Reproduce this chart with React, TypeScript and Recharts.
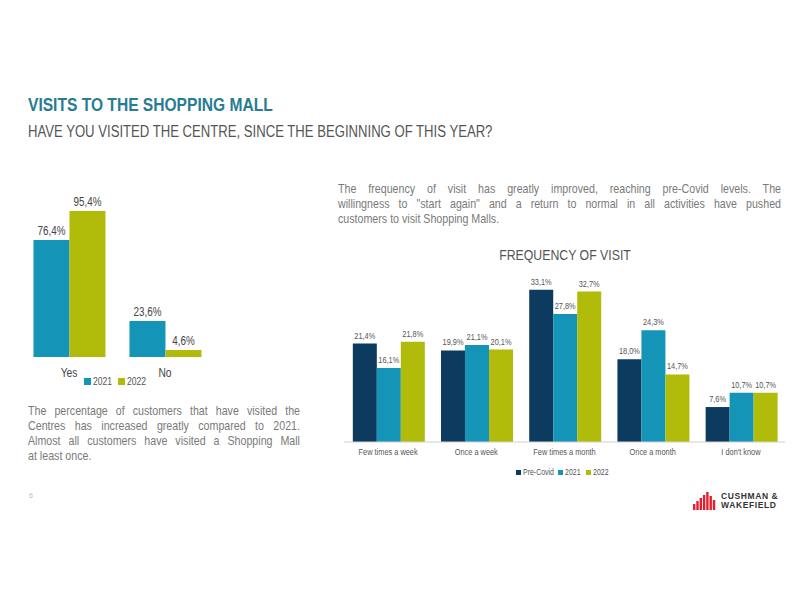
import React from "react";
import { Bar, BarChart, LabelList, Legend, XAxis, YAxis } from "recharts";

// left chart: visited since beginning of year
const visitAnswers = ["Yes", "No"];
const visits2021 = [76.4, 23.6];
const visits2022 = [95.4, 4.6];

// right chart: frequency of visit
const freqCategories = [
  "Few times a week",
  "Once a week",
  "Few times a month",
  "Once a month",
  "I don't know",
];
const freqPreCovid = [21.4, 19.9, 33.1, 18.0, 7.6];
const freq2021 = [16.1, 21.1, 27.8, 24.3, 10.7];
const freq2022 = [21.8, 20.1, 32.7, 14.7, 10.7];

const NAVY = "#0d3a5f";
const TEAL = "#1494b6";
const LIME = "#b1bb0a";

// no narrow font installed, so squeeze Liberation Sans (Arial metrics) instead
const FONT = "'Liberation Sans', Arial, sans-serif";
const SQUEEZE = 0.82;

const visitData = visitAnswers.map((answer, i) => ({
  answer,
  y2021: visits2021[i],
  y2022: visits2022[i],
}));

const freqData = freqCategories.map((cat, i) => ({
  cat,
  pre: freqPreCovid[i],
  y2021: freq2021[i],
  y2022: freq2022[i],
}));

const pct = (v: unknown) => `${Number(v).toFixed(1).replace(".", ",")}%`;

function squeezedLabel(fontSize: number, fill: string, offset: number) {
  return (props: any) => {
    const { x, y, width, value } = props;
    const cx = Number(x) + Number(width) / 2;
    const cy = Number(y) - offset;
    return (
      <text
        transform={`translate(${cx},${cy}) scale(${SQUEEZE},1)`}
        textAnchor="middle"
        fontFamily={FONT}
        fontSize={fontSize}
        fill={fill}
      >
        {pct(value)}
      </text>
    );
  };
}

function squeezedTick(fontSize: number, fill: string) {
  return (props: any) => {
    const { x, y, payload } = props;
    return (
      <text
        transform={`translate(${x},${y}) scale(${SQUEEZE},1)`}
        textAnchor="middle"
        dy="0.71em"
        fontFamily={FONT}
        fontSize={fontSize}
        fill={fill}
      >
        {payload.value}
      </text>
    );
  };
}

function squeezedLegend(fontSize: number, icon: number, gap: number) {
  return (props: any) => {
    const items = props.payload || [];
    return (
      <div style={{ display: "flex", justifyContent: "center", alignItems: "center" }}>
        {items.map((it: any) => (
          <div key={it.value} style={{ display: "flex", alignItems: "center", marginRight: gap }}>
            <span style={{ width: icon, height: icon, background: it.color, display: "inline-block", marginRight: 2 }} />
            <span
              style={{
                display: "inline-block",
                fontFamily: FONT,
                fontSize,
                color: "#555",
                transform: `scaleX(${SQUEEZE})`,
                transformOrigin: "0 50%",
                marginRight: -(1 - SQUEEZE) * fontSize * String(it.value).length * 0.55,
              }}
            >
              {it.value}
            </span>
          </div>
        ))}
      </div>
    );
  };
}

function VisitedChart() {
  return (
    <BarChart
      width={230}
      height={200}
      data={visitData}
      margin={{ top: 14, right: 17, left: 21, bottom: 13 }}
      barGap={0}
      barCategoryGap="13%"
    >
      <XAxis
        dataKey="answer"
        axisLine={false}
        tickLine={false}
        tickSize={0}
        tickMargin={11}
        height={20}
        tick={squeezedTick(12.5, "#444")}
      />
      <YAxis hide domain={[0, 100]} />
      <Legend
        verticalAlign="middle"
        itemSorter={null as any}
        wrapperStyle={{ top: 185, left: 22 }}
        content={squeezedLegend(10.5, 7, 6)}
      />
      <Bar dataKey="y2021" name="2021" fill={TEAL} isAnimationActive={false}>
        <LabelList dataKey="y2021" content={squeezedLabel(12, "#444", 5)} />
      </Bar>
      <Bar dataKey="y2022" name="2022" fill={LIME} isAnimationActive={false}>
        <LabelList dataKey="y2022" content={squeezedLabel(12, "#444", 5)} />
      </Bar>
    </BarChart>
  );
}

function FrequencyChart() {
  return (
    <BarChart
      width={470}
      height={215}
      data={freqData}
      margin={{ top: 11, right: 15, left: 14, bottom: 18 }}
      barGap={0}
      barCategoryGap="10%"
    >
      <XAxis
        dataKey="cat"
        axisLine={{ stroke: "#d0d0d0" }}
        tickLine={false}
        tickSize={0}
        tickMargin={7}
        height={25}
        interval={0}
        tick={squeezedTick(9, "#555")}
      />
      <YAxis hide domain={[0, 35]} />
      <Legend
        verticalAlign="middle"
        itemSorter={null as any}
        wrapperStyle={{ top: 197 }}
        content={squeezedLegend(8.5, 5, 5)}
      />
      <Bar dataKey="pre" name="Pre-Covid" fill={NAVY} isAnimationActive={false}>
        <LabelList dataKey="pre" content={squeezedLabel(9, "#555", 5)} />
      </Bar>
      <Bar dataKey="y2021" name="2021" fill={TEAL} isAnimationActive={false}>
        <LabelList dataKey="y2021" content={squeezedLabel(9, "#555", 5)} />
      </Bar>
      <Bar dataKey="y2022" name="2022" fill={LIME} isAnimationActive={false}>
        <LabelList dataKey="y2022" content={squeezedLabel(9, "#555", 5)} />
      </Bar>
    </BarChart>
  );
}

function Logo() {
  const heights = [6, 9, 12, 15, 18, 14, 10];
  return (
    <div style={{ position: "absolute", left: 693, top: 491, display: "flex", alignItems: "flex-end" }}>
      <svg width={24} height={19}>
        {heights.map((h, i) => (
          <rect key={i} x={i * 3.3} y={19 - h} width={2.4} height={h} fill="#e4202e" />
        ))}
      </svg>
      <div
        style={{
          marginLeft: 4,
          fontFamily: FONT,
          fontWeight: 700,
          fontSize: 8.5,
          lineHeight: "9px",
          color: "#333",
          letterSpacing: 0.6,
        }}
      >
        CUSHMAN &amp;
        <br />
        WAKEFIELD
      </div>
    </div>
  );
}

// html text block squeezed horizontally to look like a narrow font
function Narrow({
  left,
  top,
  width,
  style,
  children,
}: {
  left: number;
  top: number;
  width: number;
  style?: React.CSSProperties;
  children: React.ReactNode;
}) {
  return (
    <div
      style={{
        position: "absolute",
        left,
        top,
        width: width / SQUEEZE,
        transform: `scaleX(${SQUEEZE})`,
        transformOrigin: "0 0",
        fontFamily: FONT,
        whiteSpace: "nowrap",
        ...style,
      }}
    >
      {children}
    </div>
  );
}

const paraStyle: React.CSSProperties = {
  fontSize: 13,
  lineHeight: "15px",
  color: "#7a7a7a",
};

const justifyLine: React.CSSProperties = { textAlign: "justify", textAlignLast: "justify" };

export default function App() {
  return (
    <div
      style={{
        position: "absolute",
        left: 0,
        top: 0,
        width: 800,
        height: 600,
        background: "#fff",
        overflow: "hidden",
      }}
    >
      <Narrow left={28} top={94} width={260} style={{ fontWeight: 700, fontSize: 19, color: "#287c93" }}>
        VISITS TO THE SHOPPING MALL
      </Narrow>
      <Narrow left={28} top={123} width={500} style={{ fontSize: 16, color: "#555" }}>
        HAVE YOU VISITED THE CENTRE, SINCE THE BEGINNING OF THIS YEAR?
      </Narrow>

      <div style={{ position: "absolute", left: 0, top: 190 }}>
        <VisitedChart />
      </div>

      <Narrow left={28} top={403} width={272} style={paraStyle}>
        <div style={justifyLine}>The percentage of customers that have visited the</div>
        <div style={justifyLine}>Centres has increased greatly compared to 2021.</div>
        <div style={justifyLine}>Almost all customers have visited a Shopping Mall</div>
        <div>at least once.</div>
      </Narrow>

      <Narrow left={338} top={181} width={443} style={paraStyle}>
        <div style={justifyLine}>
          The frequency of visit has greatly improved, reaching pre-Covid levels. The
        </div>
        <div style={justifyLine}>
          willingness to "start again" and a return to normal in all activities have pushed
        </div>
        <div>customers to visit Shopping Malls.</div>
      </Narrow>

      <Narrow left={330} top={246} width={470} style={{ fontSize: 15, color: "#555", textAlign: "center" }}>
        FREQUENCY OF VISIT
      </Narrow>

      <div style={{ position: "absolute", left: 330, top: 270 }}>
        <FrequencyChart />
      </div>

      <div
        style={{
          position: "absolute",
          left: 29,
          top: 492,
          fontFamily: FONT,
          fontSize: 7,
          color: "#bbb",
        }}
      >
        6
      </div>

      <Logo />
    </div>
  );
}
